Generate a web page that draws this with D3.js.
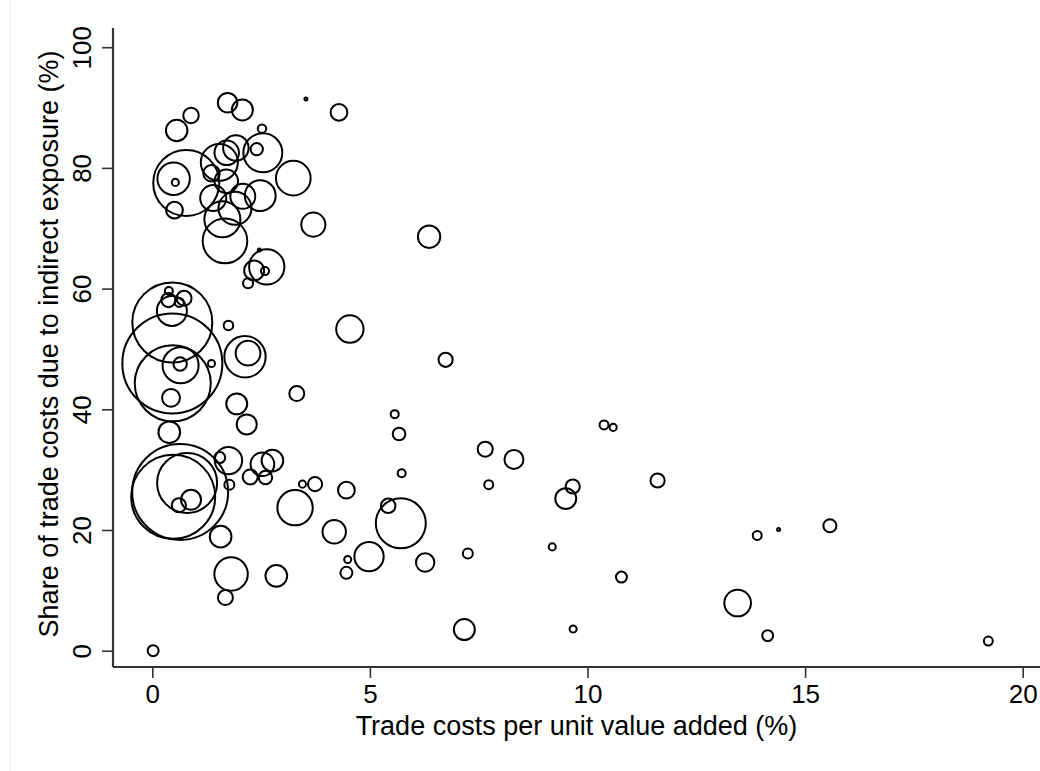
<!DOCTYPE html>
<html>
<head>
<meta charset="utf-8">
<script src="https://cdn.jsdelivr.net/npm/d3@7"></script>
<style>
  body { margin: 0; background: #fff; }
  svg { display: block; }
  text { font-family: "Liberation Sans", Arial, sans-serif; fill: #000; }
</style>
</head>
<body>
<svg id="chart" width="1040" height="771"></svg>
<script>
// Trade costs per unit value added (%), one entry per economy
const tradeCost = [
  1.73, 2.07, 3.53, 4.29, 0.89, 0.56, 2.52, 0.78, 0.49, 0.53,
  0.51, 2.54, 2.40, 3.24, 3.70, 1.54, 1.71, 1.92, 1.36, 1.70,
  1.40, 2.08, 2.48, 1.90, 1.61, 1.67, 2.63, 2.34, 2.59, 2.20,
  2.46, 0.46, 0.46, 0.47, 0.65, 0.64, 0.45, 0.37, 0.38, 0.73,
  0.62, 0.43, 1.36, 1.75, 2.13, 2.20, 1.94, 2.17, 3.32, 0.39,
  0.64, 0.48, 0.80, 0.89, 0.61, 1.75, 1.55, 1.77, 2.53, 2.76,
  2.25, 2.60, 3.28, 3.45, 3.74, 4.46, 1.57, 1.81, 1.68, 2.85,
  4.18, 4.49, 4.46, 0.02, 5.57, 5.67, 5.73, 4.98, 5.42, 5.71,
  6.27, 7.65, 8.31, 7.73, 7.25, 7.17, 9.19, 9.67, 9.66, 9.50,
  10.38, 10.59, 10.78, 11.61, 6.36, 4.54, 6.74, 13.90, 14.39, 15.57,
  13.45, 14.14, 19.21
];

// Share of trade costs due to indirect exposure (%)
const indirectShare = [
  90.8, 89.6, 91.4, 89.2, 88.7, 86.2, 86.5, 77.5, 78.2, 77.6,
  73.0, 82.5, 83.1, 78.3, 70.6, 80.9, 82.5, 83.3, 79.1, 77.8,
  75.0, 75.3, 75.4, 73.3, 71.5, 67.9, 63.6, 63.0, 62.9, 60.9,
  66.4, 54.4, 47.6, 44.3, 47.3, 47.5, 56.3, 58.1, 59.6, 58.4,
  57.7, 41.9, 47.6, 53.9, 48.7, 49.3, 40.9, 37.5, 42.6, 36.2,
  26.3, 25.5, 27.8, 25.0, 24.1, 31.5, 32.0, 27.5, 30.9, 31.5,
  28.8, 28.7, 23.7, 27.6, 27.6, 26.6, 18.9, 12.7, 8.8, 12.4,
  19.7, 15.1, 12.9, 0.0, 39.2, 35.9, 29.4, 15.6, 24.0, 21.1,
  14.6, 33.4, 31.7, 27.5, 16.1, 3.5, 17.2, 3.6, 27.2, 25.2,
  37.4, 37.0, 12.2, 28.2, 68.6, 53.3, 48.2, 19.1, 20.1, 20.7,
  7.9, 2.5, 1.6
];

// Marker weight (relative economic size)
const weight = [
  3.8, 4.4, 0.09, 2.8, 2.4, 4.6, 0.7, 43.6, 10.5, 0.5,
  2.8, 15.2, 1.5, 12.0, 5.8, 13.7, 6.0, 6.5, 2.7, 5.5,
  6.8, 6.25, 9.5, 10.9, 13.0, 19.9, 12.5, 4.0, 0.64, 1.0,
  0.09, 64.0, 100.0, 57.8, 13.0, 1.8, 9.0, 2.0, 0.64, 2.25,
  0.8, 3.2, 0.5, 0.9, 17.1, 6.1, 4.4, 4.0, 2.25, 4.7,
  92.0, 70.6, 36.0, 4.0, 2.0, 7.5, 1.2, 1.0, 5.6, 4.7,
  2.25, 1.8, 12.5, 0.5, 2.0, 2.8, 4.7, 11.2, 2.25, 4.7,
  5.5, 0.5, 1.44, 1.2, 0.64, 1.6, 0.64, 8.6, 2.1, 25.0,
  3.4, 2.25, 3.6, 0.8, 1.0, 4.4, 0.5, 0.5, 2.0, 4.4,
  0.8, 0.5, 1.2, 2.0, 5.0, 7.5, 2.0, 0.8, 0.09, 1.7,
  7.1, 1.2, 0.8
];

const xTicks = [0, 5, 10, 15, 20];
const yTicks = [0, 20, 40, 60, 80, 100];
const xTitle = "Trade costs per unit value added (%)";
const yTitle = "Share of trade costs due to indirect exposure (%)";

const points = tradeCost.map((c, i) => ({ x: c, y: indirectShare[i], w: weight[i] }));

const svg = d3.select("#chart");

// faint outer frame line on the left
svg.append("line")
  .attr("x1", 10.5).attr("x2", 10.5).attr("y1", 0).attr("y2", 771)
  .attr("stroke", "#ececec").attr("stroke-width", 1);

// plot region (axis lines span the full region, scales sit inside it)
const region = { left: 113, right: 1040, top: 28, bottom: 667 };

const x = d3.scaleLinear().domain([0, 20]).range([152.3, 1022.7]);
const y = d3.scaleLinear().domain([0, 100]).range([650.7, 47.2]);
const r = d3.scaleSqrt().domain([0, 100]).range([0, 50]);

const axisColor = "#333";
const tickFont = 26;
const titleFont = 27;

// x axis
const gx = svg.append("g").attr("transform", `translate(0,${region.bottom})`)
  .call(d3.axisBottom(x).tickValues(xTicks).tickSize(11).tickPadding(7).tickFormat(d3.format("d")));
gx.select(".domain").remove();
gx.selectAll(".tick line").attr("stroke", axisColor).attr("stroke-width", 1.6);
gx.selectAll(".tick text").attr("font-size", tickFont).attr("font-family", "Liberation Sans, Arial, sans-serif");
svg.append("line")
  .attr("x1", region.left).attr("x2", region.right)
  .attr("y1", region.bottom).attr("y2", region.bottom)
  .attr("stroke", axisColor).attr("stroke-width", 2.2);

// y axis
const gy = svg.append("g").attr("transform", `translate(${region.left},0)`)
  .call(d3.axisLeft(y).tickValues(yTicks).tickSize(11).tickFormat(d3.format("d")));
gy.select(".domain").remove();
gy.selectAll(".tick line").attr("stroke", axisColor).attr("stroke-width", 1.6);
gy.selectAll(".tick text")
  .attr("font-size", tickFont)
  .attr("font-family", "Liberation Sans, Arial, sans-serif")
  .attr("text-anchor", "middle")
  .attr("dy", null)
  .attr("x", null)
  .attr("transform", "translate(-22,0) rotate(-90)")
  .attr("y", 0);
svg.append("line")
  .attr("x1", region.left).attr("x2", region.left)
  .attr("y1", region.top).attr("y2", region.bottom)
  .attr("stroke", axisColor).attr("stroke-width", 2.2);

// axis titles
svg.append("text")
  .attr("x", (region.left + region.right) / 2)
  .attr("y", 735)
  .attr("text-anchor", "middle")
  .attr("font-size", titleFont)
  .text(xTitle);

svg.append("text")
  .attr("transform", "translate(58,344) rotate(-90)")
  .attr("text-anchor", "middle")
  .attr("font-size", titleFont)
  .text(yTitle);

// bubbles
svg.append("g")
  .selectAll("circle")
  .data(points)
  .join("circle")
  .attr("cx", d => x(d.x))
  .attr("cy", d => y(d.y))
  .attr("r", d => r(d.w))
  .attr("fill", "none")
  .attr("stroke", "#000")
  .attr("stroke-width", 2);
</script>
</body>
</html>
